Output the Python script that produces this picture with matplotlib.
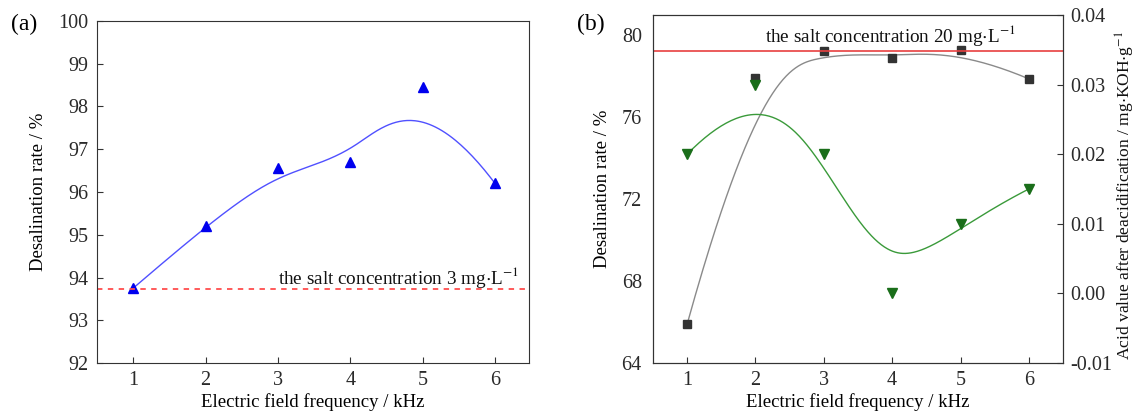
import numpy as np
import matplotlib
matplotlib.use("Agg")
import matplotlib.pyplot as plt

plt.rcParams['font.family'] = ['Liberation Serif', 'DejaVu Serif']
plt.rcParams['mathtext.fontset'] = 'stix'

# data
freq = [1, 2, 3, 4, 5, 6]

# (a) desalination rate at 3 mg/L
desalt_a = [93.75, 95.2, 96.55, 96.7, 98.45, 96.2]
salt_line_a = 93.73

# (b) desalination rate and acid value at 20 mg/L
desalt_b = [65.9, 77.9, 79.26, 78.9, 79.28, 77.88]
acid_b = [0.020, 0.030, 0.020, 0.000, 0.010, 0.015]
salt_line_b = 79.26


def bspline(xs, ys, n=300, k=3):
    # clamped uniform B-spline using the data points as control points
    P = np.column_stack([xs, ys]).astype(float)
    m = len(P)
    knots = np.concatenate([[0] * k, np.arange(m - k + 1), [m - k] * k]).astype(float)
    t = np.linspace(0, m - k, n)
    N = np.zeros((n, len(knots) - 1))
    for j in range(len(knots) - 1):
        N[:, j] = (knots[j] <= t) & (t < knots[j + 1])
    N[-1, m - 1] = 1.0
    for d in range(1, k + 1):
        newN = np.zeros((n, len(knots) - 1 - d))
        for j in range(len(knots) - 1 - d):
            a = knots[j + d] - knots[j]
            b = knots[j + d + 1] - knots[j + 1]
            left = (t - knots[j]) / a * N[:, j] if a > 0 else 0
            right = (knots[j + d + 1] - t) / b * N[:, j + 1] if b > 0 else 0
            newN[:, j] = left + right
        N = newN
    c = N @ P
    return c[:, 0], c[:, 1]


fig = plt.figure(figsize=(11.38, 4.15), dpi=100)
ax1 = fig.add_axes([0.0852, 0.1253, 0.3797, 0.8241])
ax2 = fig.add_axes([0.5738, 0.1253, 0.3603, 0.8386])
ax3 = ax2.twinx()

spine_col = '#333333'
lab_col = '#2a2a2a'
fs_tick = 14.5
fs_lab = 13.5
fs_txt = 13.8

# panel (a)
cx, cy = bspline(freq, desalt_a)
ax1.plot(cx, cy, color='#5050ff', lw=1.0)
ax1.plot(freq, desalt_a, ls='none', marker='^', ms=7.5, color='#0000ee')
ax1.axhline(salt_line_a, color='#ff4d4d', lw=1.3, ls=(0, (3, 3)))
ax1.text(6.33, 94.0, r'the salt concentration 3 mg$\cdot$L$^{-1}$', ha='right', va='center',
         fontsize=fs_txt, color='#111111')
ax1.set_xlim(0.5, 6.47)
ax1.set_ylim(92, 100)
ax1.set_xticks(freq)
ax1.set_yticks(range(92, 101))
ax1.set_xlabel('Electric field frequency / kHz', fontsize=fs_lab, labelpad=2)
ax1.set_ylabel('Desalination rate / %', fontsize=fs_lab, labelpad=8)
ax1.tick_params(direction='in', length=4, pad=6, labelsize=fs_tick, color=spine_col, labelcolor=lab_col)
for s in ax1.spines.values():
    s.set_color(spine_col)
fig.text(0.021, 0.94, '(a)', fontsize=17, ha='center', va='center')

# panel (b)
gx, gy = bspline(freq, desalt_b)
ax2.plot(gx, gy, color='#8a8a8a', lw=1.0)
ax2.plot(freq, desalt_b, ls='none', marker='s', ms=5.5, color='#333333')
ax2.axhline(salt_line_b, color='#e84040', lw=1.2)
ax2.text(3.98, 80.0, r'the salt concentration 20 mg$\cdot$L$^{-1}$', ha='center', va='center',
         fontsize=fs_txt, color='#111111')
ax2.set_xlim(0.5, 6.5)
ax2.set_ylim(64, 81)
ax2.set_xticks(freq)
ax2.set_yticks([64, 68, 72, 76, 80])
ax2.set_xlabel('Electric field frequency / kHz', fontsize=fs_lab, labelpad=2)
ax2.set_ylabel('Desalination rate / %', fontsize=fs_lab, labelpad=8)
ax2.tick_params(axis='x', direction='in', length=4, pad=6, labelsize=fs_tick, color=spine_col, labelcolor=lab_col)
ax2.tick_params(axis='y', direction='in', length=0, pad=8, labelsize=fs_tick, labelcolor=lab_col)

ax3x, ax3y = bspline(freq, acid_b)
ax3.plot(ax3x, ax3y, color='#3a9a3a', lw=1.0)
ax3.plot(freq, acid_b, ls='none', marker='v', ms=7.5, color='#1a6e1a')
ax3.set_ylim(-0.01, 0.04)
ax3.set_yticks([-0.01, 0.00, 0.01, 0.02, 0.03, 0.04])
ax3.set_yticklabels(['-0.01', '0.00', '0.01', '0.02', '0.03', '0.04'])
ax3.tick_params(axis='y', direction='in', length=4, pad=5, labelsize=fs_tick, color=spine_col, labelcolor=lab_col)
for a in (ax2, ax3):
    for s in a.spines.values():
        s.set_color(spine_col)
fig.text(0.9885, (415 - 360) / 415, r'Acid value after deacidification / mg$\cdot$KOH$\cdot$g$^{-1}$',
         rotation=90, ha='center', va='bottom', fontsize=12.6, color='#111111')
fig.text(0.519, 0.94, '(b)', fontsize=17, ha='center', va='center')

fig.savefig('out.png', dpi=100)
